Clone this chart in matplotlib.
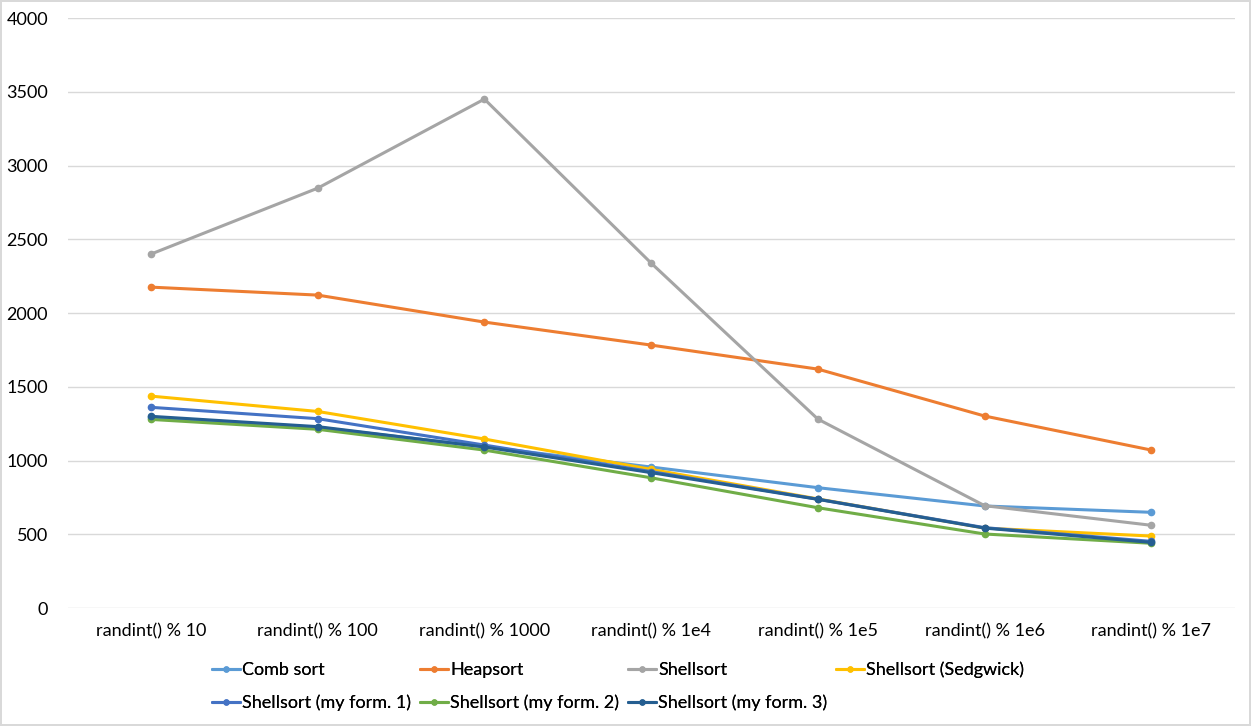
import numpy as np
import matplotlib.pyplot as plt

plt.rcParams['font.family'] = ['Lato', 'DejaVu Sans']

# Data
categories = ['randint() % 10', 'randint() % 100', 'randint() % 1000', 'randint() % 1e4',
              'randint() % 1e5', 'randint() % 1e6', 'randint() % 1e7']
comb_sort = [1295, 1225, 1095, 956, 816, 692, 649]
heapsort = [2176, 2122, 1939, 1783, 1620, 1302, 1071]
shellsort = [2400, 2847, 3451, 2339, 1281, 694, 561]
sedgwick = [1437, 1333, 1146, 940, 740, 542, 488]
my_form1 = [1361, 1284, 1105, 925, 738, 545, 452]
my_form2 = [1279, 1212, 1071, 883, 680, 502, 439]
my_form3 = [1300, 1230, 1092, 918, 737, 542, 445]

series = [
    ('Comb sort', comb_sort, '#5B9BD5'),
    ('Heapsort', heapsort, '#ED7D31'),
    ('Shellsort', shellsort, '#A5A5A5'),
    ('Shellsort (Sedgwick)', sedgwick, '#FFC000'),
    ('Shellsort (my form. 1)', my_form1, '#4472C4'),
    ('Shellsort (my form. 2)', my_form2, '#70AD47'),
    ('Shellsort (my form. 3)', my_form3, '#255E91'),
]

fig = plt.figure(figsize=(12.51, 7.26), dpi=100)
fig.patch.set_edgecolor('#D9D9D9')
fig.patch.set_linewidth(1.5)
ax = fig.add_axes([0.054, 0.1625, 0.933, 0.8125])

x = np.arange(len(categories))
handles = []
for name, vals, col in series:
    h, = ax.plot(x, vals, color=col, linewidth=2.2, marker='o', markersize=4.5,
                 label=name, solid_capstyle='round')
    handles.append(h)

ax.set_xlim(-0.5, len(categories) - 0.5)
ax.set_ylim(0, 4000)
ax.set_yticks(np.arange(0, 4001, 500))
ax.set_xticks(x)
ax.set_xticklabels(categories)
ax.grid(axis='y', color='#D9D9D9', linewidth=1)
ax.set_axisbelow(True)
for s in ax.spines.values():
    s.set_visible(False)
ax.tick_params(length=0, labelsize=13, colors='#000000')
ax.tick_params(axis='x', pad=11)
ax.tick_params(axis='y', pad=14)

# Legend: 4 equal-width columns, 2 rows (Excel style)
col_left, col_step = 0.1695, 0.1663
row_y = [0.0771, 0.0317]
for i, h in enumerate(handles):
    lx = col_left + col_step * (i % 4)
    ly = row_y[i // 4]
    lg = fig.legend(handles=[h], loc='center left', bbox_to_anchor=(lx, ly),
                    frameon=False, fontsize=13, handlelength=1.55,
                    handletextpad=0.12, borderpad=0, borderaxespad=0, markerscale=0.8)
    fig.add_artist(lg)

fig.savefig('out.png', dpi=100)
